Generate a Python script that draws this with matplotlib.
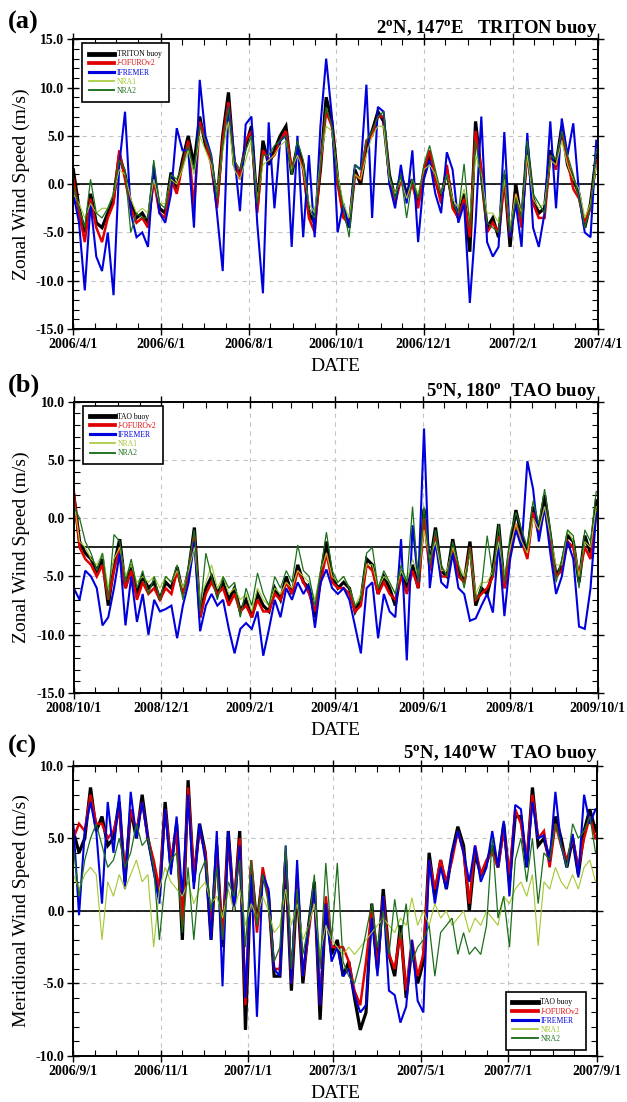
import numpy as np
import matplotlib
matplotlib.use("Agg")
import matplotlib.pyplot as plt
import matplotlib.dates as mdates
from matplotlib.ticker import MultipleLocator, FormatStrFormatter

plt.rcParams["font.family"] = ["Liberation Serif", "DejaVu Serif"]
plt.rcParams["mathtext.fontset"] = "custom"
plt.rcParams["mathtext.rm"] = "Liberation Serif:bold"
plt.rcParams["mathtext.it"] = "Liberation Serif:bold"
plt.rcParams["mathtext.bf"] = "Liberation Serif:bold"
plt.rcParams["axes.unicode_minus"] = False

# samples every 4 days from the first day of each record
step_days = 4

source_names = ["buoy", "J-OFUROv2", "IFREMER", "NRA1", "NRA2"]
source_colors = ["#000000", "#e00000", "#0000dd", "#a2c832", "#1b6f1b"]
source_widths = [2.3, 1.8, 1.5, 0.8, 0.9]

#
# (a) 2N 147E TRITON buoy, zonal wind
#
start_a = "2006-04-01"
end_a = "2007-04-01"
ticks_a = ["2006-04-01", "2006-06-01", "2006-08-01", "2006-10-01",
           "2006-12-01", "2007-02-01", "2007-04-01"]
tick_labels_a = ["2006/4/1", "2006/6/1", "2006/8/1", "2006/10/1",
                 "2006/12/1", "2007/2/1", "2007/4/1"]

buoy_a = [1.5, -2.5, -5.0, -1.0, -4.0, -4.5, -3.0, -1.5, 3.0, 1.0,
          -2.0, -3.5, -3.0, -4.0, 1.0, -2.5, -3.0, 1.2, -0.5, 2.5,
          5.0, 2.0, 7.0, 4.0, 2.5, -2.0, 5.0, 9.5, 2.0, 1.0,
          4.0, 6.0, -2.5, 4.5, 2.0, 3.5, 5.0, 6.0, 1.0, 4.0,
          2.0, -3.0, -4.0, 1.5, 9.0, 6.5, 0.5, -3.0, -4.5, 1.5,
          0.0, 4.0, 5.5, 7.5, 6.5, 1.0, -1.5, 1.0, -1.0, 0.5,
          -2.0, 1.0, 3.0, 0.5, -1.5, 1.5, -2.0, -3.5, -1.0, -7.0,
          6.5, 1.0, -4.5, -3.5, -5.5, 1.0, -6.5, 0.0, -4.0, 4.0,
          -1.5, -3.0, -2.5, 3.5, 2.0, 6.0, 2.0, 0.5, -1.0, -4.5, -2.0, 3.0]
jofuro_a = [0.5, -3.0, -6.0, -1.5, -4.5, -6.0, -3.5, -2.0, 3.5, 0.5,
            -2.5, -4.0, -3.5, -4.5, 0.5, -3.0, -3.5, 0.5, -1.0, 2.0,
            4.5, -2.5, 6.5, 4.5, 2.0, -2.5, 4.5, 8.5, 2.5, 0.5,
            4.5, 5.5, -3.0, 3.5, 2.5, 3.0, 4.5, 5.5, 1.5, 3.5,
            1.5, -3.5, -5.0, 2.0, 7.5, 6.0, 0.0, -3.5, -4.0, 1.0,
            0.5, 4.5, 5.0, 7.0, 7.0, 0.5, -2.0, 0.5, -1.5, 0.0,
            -2.5, 1.5, 3.5, 0.5, -2.0, 2.0, -2.5, -3.5, -1.5, -5.5,
            5.5, 1.5, -5.0, -4.0, -5.0, 0.5, -5.5, -1.0, -4.5, 3.5,
            -2.0, -3.5, -3.5, 3.0, 1.5, 5.5, 2.5, -0.5, -1.5, -4.0, -2.5, 2.5]
ifremer_a = [-1.0, -4.0, -11.0, -2.0, -7.5, -9.0, -5.0, -11.5, 2.0, 7.5,
             -3.0, -5.5, -5.0, -6.5, 2.0, -3.0, -4.0, -1.0, 5.8, 3.5,
             3.5, -4.5, 10.8, 5.0, 3.0, -3.0, -9.0, 8.0, 3.0, -2.8,
             6.2, 7.0, -4.0, -11.3, 6.4, -2.5, 4.5, 5.0, -6.5, 5.0,
             -5.5, 3.0, -5.5, 6.0, 13.0, 7.0, -5.0, -2.0, -4.5, 2.0,
             1.5, 10.3, -3.5, 8.0, 7.5, 0.0, -2.5, 2.0, -2.0, 3.5,
             -6.0, 0.5, 2.5, -1.0, -3.0, 3.3, 1.5, -4.0, -2.0, -12.3,
             -4.0, 7.0, -6.0, -7.5, -6.5, 5.4, -5.5, -2.0, -6.5, 5.3,
             -4.5, -6.5, -3.0, 6.5, -2.5, 6.8, 3.0, 6.3, -1.0, -5.0, -5.5, 4.5]
nra1_a = [-1.0, -2.0, -3.5, -2.0, -3.0, -2.5, -2.5, -1.0, 1.5, 1.0,
          -1.5, -3.0, -2.5, -3.0, 0.5, -2.0, -2.0, 0.5, 0.0, 1.5,
          3.5, 1.0, 5.0, 3.5, 2.0, -1.0, 3.5, 6.5, 1.5, 0.5,
          2.5, 4.5, -1.5, 2.0, 2.5, 3.0, 4.0, 4.5, 1.5, 3.0,
          1.5, -2.0, -3.0, 2.5, 6.0, 5.5, 1.0, -2.0, -3.5, 1.0,
          0.5, 3.0, 5.0, 6.0, 6.0, 0.5, -1.0, 0.5, -1.5, 0.5,
          -1.0, 1.5, 2.0, 1.0, -1.0, 1.0, -1.5, -2.5, -0.5, -3.5,
          3.0, 1.0, -3.0, -3.0, -4.0, 0.5, -4.5, -1.0, -3.0, 3.0,
          -1.5, -2.5, -2.0, 2.5, 2.0, 4.5, 2.0, 0.5, -0.5, -3.5, -2.0, 2.0]
nra2_a = [0.0, -2.5, -4.5, 0.5, -3.0, -3.5, -2.5, -1.0, 2.5, 1.5,
          -5.0, -3.0, -3.5, -3.5, 2.5, -2.0, -2.5, 1.0, 0.5, 2.0,
          4.0, 1.5, 6.0, 4.5, 3.0, -1.5, 4.0, 8.0, 2.5, 1.5,
          3.5, 5.0, -2.0, 3.0, 3.0, 4.0, 4.5, 5.0, 1.0, 4.5,
          2.5, -2.5, -3.5, 2.0, 8.0, 6.0, 0.5, -2.5, -5.5, 2.0,
          1.5, 4.5, 5.5, 7.0, 7.5, 1.0, -1.5, 1.0, -3.5, 0.5,
          -1.5, 2.0, 4.0, 1.5, -1.0, 1.0, -2.0, -3.0, 2.1, -4.5,
          4.5, 0.5, -4.0, -4.5, -5.0, 1.5, -5.0, -1.5, -3.5, 4.5,
          -1.0, -2.0, -3.0, 3.0, 2.5, 5.5, 3.0, 1.0, -1.5, -4.5, -2.5, 3.5]

#
# (b) 5N 180 TAO buoy, zonal wind
#
start_b = "2008-10-01"
end_b = "2009-10-01"
ticks_b = ["2008-10-01", "2008-12-01", "2009-02-01", "2009-04-01",
           "2009-06-01", "2009-08-01", "2009-10-01"]
tick_labels_b = ["2008/10/1", "2008/12/1", "2009/2/1", "2009/4/1",
                 "2009/6/1", "2009/8/1", "2009/10/1"]

buoy_b = [2.0, -2.0, -3.0, -3.5, -4.5, -3.5, -7.5, -4.0, -1.8, -6.0,
          -4.0, -6.5, -5.0, -6.0, -5.5, -7.0, -5.5, -6.0, -4.2, -6.5,
          -4.5, -0.8, -8.5, -6.0, -5.0, -6.5, -5.5, -7.0, -6.0, -8.0,
          -7.0, -8.5, -6.5, -7.5, -8.0, -6.0, -7.0, -5.0, -6.5, -4.0,
          -5.5, -6.0, -8.5, -5.0, -2.0, -5.0, -6.0, -5.5, -6.0, -8.0,
          -7.0, -3.5, -4.0, -6.5, -5.0, -6.0, -7.5, -4.5, -6.0, -4.0,
          -6.0, 0.8, -4.0, -0.8, -4.5, -5.0, -1.8, -4.5, -5.5, -2.0,
          -7.5, -6.0, -6.5, -4.5, -0.5, -6.0, -2.5, 0.7, -1.5, -3.0,
          1.0, -1.0, 2.0, -1.5, -5.0, -4.0, -1.5, -2.0, -5.5, -1.5, -3.0, 1.5]
jofuro_b = [2.3, -2.5, -3.5, -4.0, -5.0, -4.0, -7.0, -4.5, -2.5, -6.0,
            -4.5, -7.0, -5.5, -6.5, -6.0, -7.0, -6.0, -6.5, -4.5, -6.5,
            -5.0, -1.5, -8.5, -6.5, -5.5, -6.5, -6.0, -7.5, -6.5, -8.0,
            -7.5, -8.5, -7.0, -8.0, -8.0, -6.5, -7.0, -5.5, -6.5, -4.5,
            -5.5, -6.5, -8.0, -5.5, -3.0, -5.5, -6.0, -6.0, -6.5, -8.0,
            -7.5, -4.0, -4.5, -6.5, -5.5, -6.5, -7.0, -5.0, -6.5, -4.5,
            -6.0, 0.0, -4.5, -1.5, -5.0, -5.0, -2.5, -5.0, -5.5, -2.5,
            -7.0, -6.5, -6.0, -5.0, -1.5, -6.0, -3.0, -0.5, -2.0, -3.5,
            0.5, -1.5, 1.0, -2.0, -5.0, -4.5, -2.0, -2.5, -5.0, -2.5, -3.5, 0.5]
ifremer_b = [-6.0, -7.0, -4.5, -5.0, -6.0, -9.2, -8.5, -6.0, -3.0, -9.2,
             -5.0, -8.9, -6.5, -10.0, -7.0, -8.0, -7.8, -7.5, -10.3, -7.5,
             -5.5, -2.0, -9.7, -7.5, -6.5, -7.5, -7.0, -9.5, -11.6, -9.5,
             -9.0, -9.5, -8.0, -11.8, -9.5, -7.0, -8.5, -6.0, -7.0, -5.5,
             -6.5, -5.6, -9.4, -5.5, -4.4, -6.0, -6.5, -6.0, -7.0, -9.3,
             -11.6, -6.0, -5.5, -10.3, -6.5, -8.0, -8.5, -1.8, -12.2, -0.6,
             -5.5, 7.7, -6.0, -2.0, -5.5, -6.0, -3.0, -6.0, -6.5, -8.8,
             -8.6, -7.5, -6.5, -8.1, -2.0, -8.4, -3.5, -1.0, -2.5, 4.9,
             2.5, -2.0, 1.0, -3.0, -6.5, -5.0, -2.0, -3.5, -9.3, -9.5, -6.0, 0.5]
nra1_b = [1.5, -2.0, -2.5, -3.5, -4.0, -3.0, -6.0, -3.5, -2.5, -5.0,
          -4.0, -5.5, -5.0, -5.5, -5.0, -6.0, -5.0, -5.5, -4.5, -6.0,
          -4.5, -2.5, -7.0, -5.5, -4.0, -6.0, -5.0, -6.5, -6.0, -7.0,
          -6.5, -8.0, -6.0, -7.0, -7.5, -6.0, -6.5, -5.5, -6.0, -4.5,
          -5.0, -5.5, -7.0, -4.5, -3.0, -5.0, -5.5, -5.0, -6.0, -7.5,
          -6.5, -4.0, -4.0, -6.0, -5.0, -5.5, -6.5, -4.5, -5.5, -3.5,
          -5.0, -1.0, -3.5, -2.0, -4.5, -4.5, -2.5, -4.0, -5.0, -3.0,
          -6.5, -5.5, -5.5, -4.5, -2.0, -5.0, -2.5, -0.5, -2.0, -3.0,
          0.0, -1.0, 1.0, -1.5, -4.0, -4.0, -1.0, -2.0, -5.0, -2.0, -2.5, 1.0]
nra2_b = [1.0, 0.0, -2.0, -3.0, -4.5, -3.0, -7.0, -1.4, -2.0, -5.5,
          -3.5, -6.0, -4.5, -6.5, -5.0, -7.0, -5.0, -5.5, -4.0, -7.0,
          -4.0, -1.0, -8.0, -3.0, -5.0, -7.0, -5.0, -6.0, -5.5, -8.5,
          -6.0, -7.5, -4.7, -6.5, -7.5, -5.0, -6.0, -4.5, -5.5, -2.3,
          -4.5, -5.0, -7.5, -4.5, -1.2, -4.5, -5.5, -5.0, -6.0, -7.5,
          -7.0, -3.0, -2.5, -6.0, -4.5, -5.5, -6.5, -4.0, -5.5, 1.0,
          -5.5, 1.0, -4.0, -1.0, -4.0, -5.0, -2.0, -4.0, -6.0, -2.5,
          -7.0, -6.0, -1.5, -5.0, -0.5, -5.5, -1.5, 0.5, -1.0, -2.5,
          1.5, -0.5, 2.5, -1.0, -5.5, -3.5, -1.0, -1.5, -6.0, -1.0, -2.0, 2.3]

# mean level drawn as the reference line in (b)
ref_b = -2.5

#
# (c) 5N 140W TAO buoy, meridional wind
#
start_c = "2006-09-01"
end_c = "2007-09-01"
ticks_c = ["2006-09-01", "2006-11-01", "2007-01-01", "2007-03-01",
           "2007-05-01", "2007-07-01", "2007-09-01"]
tick_labels_c = ["2006/9/1", "2006/11/1", "2007/1/1", "2007/3/1",
                 "2007/5/1", "2007/7/1", "2007/9/1"]

buoy_c = [5.5, 4.0, 5.0, 8.5, 5.5, 6.5, 4.5, 5.0, 7.5, 2.0,
          7.0, 5.0, 8.0, 5.0, 3.0, 1.0, 7.5, 3.0, 6.0, -2.0,
          9.0, 2.0, 6.0, 4.0, -2.0, 4.5, -2.5, 5.5, 0.0, 5.5,
          -8.2, 3.0, -1.0, 2.5, 1.2, -4.5, -4.5, 3.5, -5.5, 2.0,
          -5.0, -1.0, 2.0, -7.5, 0.5, -3.0, -2.0, -4.5, -3.5, -6.0,
          -8.2, -7.0, 0.5, -4.0, 1.5, -3.0, -4.5, -1.0, -6.0, -2.5,
          -5.0, -3.5, 4.0, 1.0, 3.5, 1.5, 4.0, 5.8, 4.5, 0.0,
          4.0, 2.5, 3.3, 4.5, 3.0, 6.0, 2.0, 6.5, 6.5, 3.0,
          8.5, 4.5, 5.0, 3.5, 6.5, 5.0, 3.0, 5.0, 2.5, 5.5, 7.0, 5.5]
jofuro_c = [5.0, 6.0, 5.5, 8.0, 6.0, 6.0, 5.0, 5.5, 7.0, 2.5,
            7.0, 5.5, 7.5, 5.0, 3.5, 1.5, 7.0, 3.5, 5.5, -1.0,
            8.5, 2.5, 5.5, 4.0, -1.5, 4.0, -2.0, 5.0, 0.5, 5.0,
            -6.5, 3.5, -1.5, 3.0, 1.0, -4.0, -4.0, 4.0, -5.0, 2.5,
            -4.5, -1.5, 1.5, -6.5, 1.0, -2.5, -2.5, -2.5, -3.5, -5.5,
            -6.5, -3.5, 0.0, -4.0, 1.0, -3.0, -4.0, -1.5, -5.5, -2.0,
            -4.5, -3.0, 3.5, 1.5, 3.5, 2.0, 3.5, 5.5, 4.0, 0.5,
            4.5, 2.5, 3.5, 4.0, 3.0, 5.5, 2.5, 7.0, 6.0, 3.5,
            8.0, 5.0, 5.5, 3.0, 6.0, 4.5, 3.5, 5.0, 3.0, 5.0, 6.5, 5.0]
ifremer_c = [6.0, -0.3, 5.5, 7.5, 5.5, 0.5, 7.5, 4.0, 8.0, 1.5,
             8.2, 5.0, 7.5, 5.0, 2.7, 0.5, 7.0, 2.5, 6.5, 1.0,
             8.0, 1.5, 6.0, 3.5, -2.0, 5.5, -5.2, 5.5, 0.0, 4.5,
             -6.0, 2.5, -7.3, 2.5, 1.5, -4.0, -4.5, 4.5, -5.0, 3.5,
             -4.5, -1.0, 1.5, -6.5, 0.5, -3.5, -2.5, -4.5, -4.0, -5.8,
             -7.0, -6.5, -0.5, -4.5, 1.0, -5.5, -5.8, -7.7, -6.6, -2.0,
             -6.2, -7.0, 3.5, 0.5, 3.0, 1.5, 4.0, 5.5, 4.0, 2.0,
             4.5, 2.0, 3.0, 5.5, 3.0, 6.2, 1.0, 7.3, 7.0, 3.0,
             7.5, 5.0, 5.2, 3.4, 8.2, 4.5, 3.0, 5.3, 2.3, 8.0, 6.0, 7.0]
nra1_c = [2.5, 1.5, 2.5, 3.0, 2.5, -2.0, 2.0, 1.0, 2.5, 1.5,
          2.5, 3.5, 2.0, 2.5, -2.5, 1.5, 3.0, 2.0, 1.5, 1.0,
          2.0, 0.5, 1.5, 2.0, 0.5, 1.0, -0.5, 1.5, 0.0, 1.5,
          -1.0, 0.5, -0.5, 1.0, 0.0, -1.5, -1.0, 1.5, -1.0, 0.5,
          -2.0, -1.0, 0.5, -3.0, -1.0, -2.0, -2.5, -3.0, -2.5, -3.0,
          -2.5, -2.0, -1.5, -1.0, -0.5, -1.0, -1.5, -0.5, -1.0, 0.9,
          -1.0, 0.0, -1.0, 0.5, -0.5, 0.0, -1.0, -0.5, 0.0, -1.5,
          -0.5, -1.0, 0.0, -0.5, -1.0, 1.0, 0.5, 1.5, 2.0, 1.0,
          2.5, -2.4, 2.0, 1.5, 3.0, 2.0, 1.5, 2.5, 1.5, 3.0, 3.5, 2.0]
nra2_c = [4.5, 1.0, 3.5, 5.0, 6.0, 4.5, 3.0, 3.5, 5.0, 3.0,
          4.0, 6.0, 4.5, 5.0, 3.0, -2.0, 2.0, 3.5, 4.0, -1.5,
          3.0, -2.0, 2.5, 3.5, 0.0, 3.0, -2.0, 2.0, 1.0, 3.5,
          -2.5, 3.5, -1.0, 2.5, 0.5, -3.5, -2.5, 4.5, -4.0, 1.5,
          -3.0, -1.0, 2.5, -4.0, 3.3, -2.0, 3.3, -3.5, -4.5, -5.0,
          -3.5, -1.5, 0.5, -2.5, 0.0, -3.0, 0.8, -2.0, 0.5, -3.5,
          -2.5, -2.0, -1.0, -4.5, -1.5, -1.0, -0.5, -3.0, -1.5, -3.0,
          -2.5, -3.0, -1.0, 5.0, -0.5, 1.0, -2.5, 3.5, 5.0, 2.0,
          5.0, 0.5, 4.0, 3.5, 6.0, 4.5, 3.0, 6.0, 5.0, 5.5, 6.5, 4.0]


fig_w_px = 627
fig_h_px = 1102

fig = plt.figure(
    figsize=(fig_w_px / 100, fig_h_px / 100),
    dpi=100
)


def px_box(left, top, right, bottom):
    return [
        left / fig_w_px,
        1 - bottom / fig_h_px,
        (right - left) / fig_w_px,
        (bottom - top) / fig_h_px
    ]


def draw_panel(
    box,
    start,
    end,
    ticks,
    tick_labels,
    series,
    buoy_name,
    ylim,
    ylabel,
    ref_value,
    legend_loc,
    legend_anchor
):

    ax = fig.add_axes(box)

    dates = np.datetime64(start) + np.arange(len(series[0])) * step_days

    labels = [buoy_name] + source_names[1:]

    for values, label, color, lw in zip(
        series,
        labels,
        source_colors,
        source_widths
    ):
        ax.plot(
            dates,
            values,
            color=color,
            linewidth=lw,
            label=label,
            solid_joinstyle="miter"
        )

    ax.axhline(
        ref_value,
        color="black",
        linewidth=1.2,
        zorder=1
    )

    ax.set_xlim(
        np.datetime64(start),
        np.datetime64(end)
    )
    ax.set_ylim(ylim)

    ax.set_xticks(
        [np.datetime64(t) for t in ticks]
    )
    ax.set_xticklabels(
        tick_labels,
        fontweight="bold",
        fontsize=10
    )
    ax.xaxis.set_minor_locator(
        mdates.DayLocator(bymonthday=[1, 16])
    )

    ax.yaxis.set_major_locator(MultipleLocator(5))
    ax.yaxis.set_minor_locator(MultipleLocator(1))
    ax.yaxis.set_major_formatter(FormatStrFormatter("%.1f"))
    for lab in ax.get_yticklabels():
        lab.set_fontweight("bold")
        lab.set_fontsize(10)

    ax.tick_params(
        which="major",
        direction="inout",
        length=9,
        width=1.0,
        top=True,
        right=True,
        pad=2
    )
    ax.tick_params(
        which="minor",
        direction="in",
        length=4,
        width=0.8,
        top=True,
        right=True
    )

    ax.grid(
        True,
        which="major",
        color="#c4c4c4",
        linestyle=(0, (4, 4)),
        linewidth=0.8
    )
    ax.set_axisbelow(True)

    for spine in ax.spines.values():
        spine.set_linewidth(1.4)

    ax.set_ylabel(
        ylabel,
        fontsize=14,
        labelpad=4
    )
    ax.set_xlabel(
        "DATE",
        fontsize=14,
        labelpad=5
    )

    leg = ax.legend(
        loc=legend_loc,
        bbox_to_anchor=legend_anchor,
        borderaxespad=0,
        fontsize=5.5,
        handlelength=3.3,
        handletextpad=0.35,
        labelspacing=0.15,
        borderpad=0.9,
        fancybox=False,
        framealpha=1,
        edgecolor="black"
    )
    leg.get_frame().set_linewidth(1.2)
    for text, line in zip(leg.get_texts(), leg.get_lines()):
        text.set_color(line.get_color())
        line.set_linewidth(line.get_linewidth() * 1.5)

    return ax


ax_a = draw_panel(
    px_box(73.3, 39.3, 597.7, 329),
    start_a,
    end_a,
    ticks_a,
    tick_labels_a,
    [buoy_a, jofuro_a, ifremer_a, nra1_a, nra2_a],
    "TRITON buoy",
    (-15, 15),
    "Zonal Wind Speed (m/s)",
    0.0,
    "upper left",
    (0.017, 0.986)
)

ax_b = draw_panel(
    px_box(73.8, 401.7, 597.7, 693),
    start_b,
    end_b,
    ticks_b,
    tick_labels_b,
    [buoy_b, jofuro_b, ifremer_b, nra1_b, nra2_b],
    "TAO buoy",
    (-15, 10),
    "Zonal Wind Speed (m/s)",
    ref_b,
    "upper left",
    (0.017, 0.986)
)

ax_c = draw_panel(
    px_box(73.3, 765.7, 597.0, 1056),
    start_c,
    end_c,
    ticks_c,
    tick_labels_c,
    [buoy_c, jofuro_c, ifremer_c, nra1_c, nra2_c],
    "TAO buoy",
    (-10, 10),
    "Meridional Wind Speed (m/s)",
    0.0,
    "lower right",
    (0.979, 0.021)
)

# panel letters and station names
for letter, y_px in zip(
    ["(a)", "(b)", "(c)"],
    [22, 385, 746]
):
    fig.text(
        8 / fig_w_px,
        1 - y_px / fig_h_px,
        letter,
        fontsize=19,
        fontweight="bold",
        va="center",
        ha="left"
    )

station_titles = [
    r"2$^{\mathrm{o}}$N, 147$^{\mathrm{o}}$E   TRITON buoy",
    r"5$^{\mathrm{o}}$N, 180$^{\mathrm{o}}$  TAO buoy",
    r"5$^{\mathrm{o}}$N, 140$^{\mathrm{o}}$W   TAO buoy"
]

for title, y_px in zip(
    station_titles,
    [33, 396, 758]
):
    fig.text(
        597 / fig_w_px,
        1 - y_px / fig_h_px,
        title,
        fontsize=13.5,
        fontweight="bold",
        va="baseline",
        ha="right"
    )

plt.savefig(
    "out.png",
    dpi=100
)

plt.close()
